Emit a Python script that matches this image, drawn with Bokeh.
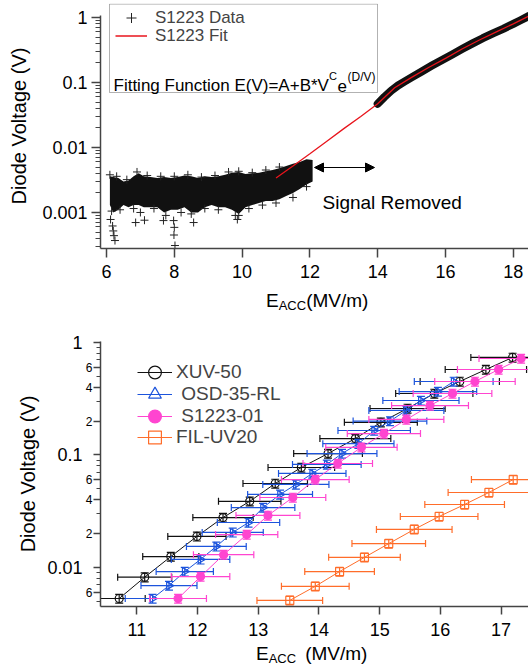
import math
from bokeh.plotting import figure
from bokeh.models import (ColumnDataSource, FixedTicker, CustomJSTickFormatter, Legend,
                          LegendItem, BoxAnnotation, Label, Arrow, NormalHead, LogAxis, Div)
from bokeh.layouts import column
from bokeh.embed import file_html
from bokeh.resources import INLINE

FONT = "Liberation Sans"

# ---------------- top panel data ----------------
noise_x = [6.10, 6.20, 6.35, 6.50, 6.65, 6.80, 6.95, 7.10, 7.30, 7.50, 7.70, 7.90, 8.10,
           8.30, 8.50, 8.70, 8.90, 9.10, 9.30, 9.50, 9.70, 9.90, 10.10, 10.30, 10.50,
           10.70, 10.90, 11.10, 11.30, 11.50, 11.70, 11.90, 12.08]
noise_hi = [0.0036, 0.0035, 0.0034, 0.0030, 0.0031, 0.0036, 0.0040, 0.0036, 0.0035, 0.0034,
            0.0035, 0.0034, 0.0035, 0.0037, 0.0036, 0.0034, 0.0036, 0.0035, 0.0036, 0.0038,
            0.0041, 0.0042, 0.0039, 0.0040, 0.0041, 0.0043, 0.0045, 0.0048, 0.0052, 0.0056,
            0.0060, 0.0066, 0.0064]
noise_lo = [0.0013, 0.0010, 0.0011, 0.0013, 0.0012, 0.0013, 0.0013, 0.0012, 0.0012, 0.0012,
            0.0010, 0.0011, 0.0011, 0.0012, 0.0010, 0.0010, 0.0012, 0.0013, 0.0012, 0.0012,
            0.0011, 0.00095, 0.0012, 0.0013, 0.0014, 0.0015, 0.0015, 0.0016, 0.0018, 0.0020,
            0.0023, 0.0027, 0.0030]
cross_x = [6.10, 6.30, 6.60, 6.90, 7.20, 7.60, 8.00, 8.40, 8.80, 9.20, 9.60, 9.90, 10.30,
           10.70, 11.10,
           6.15, 6.40, 6.80, 7.00, 7.40, 7.75, 8.20, 8.50, 8.90, 9.30, 9.80, 10.20, 10.60,
           11.00, 11.50, 11.90,
           6.12, 6.18, 6.20, 6.22, 6.25, 6.86, 7.12, 7.68, 7.98, 8.00, 7.99, 8.02, 8.57,
           9.86, 9.90]
cross_y = [0.0038, 0.0036, 0.0032, 0.0042, 0.0037, 0.0036, 0.0036, 0.0038, 0.0035, 0.0037,
           0.0042, 0.0043, 0.0041, 0.0045, 0.0050,
           0.00105, 0.0011, 0.00115, 0.0010, 0.00115, 0.0009, 0.0010, 0.00095, 0.00115,
           0.0011, 0.0009, 0.00115, 0.0013, 0.0014, 0.0017, 0.0025,
           0.00078, 0.00062, 0.00052, 0.00044, 0.00037, 0.0007, 0.00076, 0.00075, 0.00075,
           0.00059, 0.00045, 0.00031, 0.0007, 0.00078, 0.0009]
signal_x = [14.0, 14.2, 14.4, 14.6, 14.8, 15.0, 15.3, 15.6, 15.9, 16.2, 16.5, 16.8, 17.1,
            17.4, 17.7, 18.0, 18.2, 18.45]
signal_y = [0.047, 0.060, 0.075, 0.090, 0.104, 0.120, 0.148, 0.182, 0.222, 0.27, 0.33,
            0.40, 0.48, 0.57, 0.67, 0.80, 0.90, 1.05]
fit_x = [11.0, 11.5, 12.0, 12.5, 13.0, 13.5, 14.0, 14.5, 15.0, 15.5, 16.0, 16.5, 17.0,
         17.5, 18.0, 18.45]
fit_y = [0.0034, 0.0052, 0.0080, 0.0125, 0.0195, 0.030, 0.047, 0.083, 0.12, 0.17, 0.235,
         0.33, 0.45, 0.60, 0.80, 1.05]
top_xticks = [6, 8, 10, 12, 14, 16, 18]
top_yticks = [0.001, 0.01, 0.1, 1]

# ---------------- bottom panel data ----------------
xuv_x = [10.71, 11.13, 11.56, 11.99, 12.42, 12.86, 13.28, 13.71, 14.15, 14.60, 15.02,
         15.46, 15.90, 16.32, 16.75, 17.19]
xuv_y = [0.0053, 0.0082, 0.0125, 0.0189, 0.0278, 0.0387, 0.0558, 0.0774, 0.103, 0.140,
         0.195, 0.259, 0.352, 0.450, 0.575, 0.736]
osd_x = [11.26, 11.53, 11.79, 12.05, 12.31, 12.58, 12.84, 13.08, 13.36, 13.62, 13.89,
         14.13, 14.38, 14.65, 14.91, 15.17, 15.44, 15.68, 15.96, 16.22]
osd_y = [0.0053, 0.0069, 0.0092, 0.0118, 0.0154, 0.0205, 0.0251, 0.0341, 0.0446, 0.0547,
         0.0685, 0.0824, 0.103, 0.126, 0.165, 0.200, 0.249, 0.305, 0.366, 0.450]
s1223_x = [11.68, 12.05, 12.43, 12.81, 13.16, 13.57, 13.94, 14.31, 14.70, 15.07, 15.44,
           15.83, 16.20, 16.57, 16.96, 17.33]
s1223_y = [0.0053, 0.0083, 0.0130, 0.0196, 0.0290, 0.0419, 0.0605, 0.084, 0.117, 0.155,
           0.207, 0.275, 0.352, 0.450, 0.575, 0.720]
fil_x = [13.52, 13.94, 14.34, 14.75, 15.15, 15.57, 15.98, 16.40, 16.80, 17.20]
fil_y = [0.0051, 0.0068, 0.0092, 0.0123, 0.0163, 0.0218, 0.0284, 0.0363, 0.0464, 0.0605]
X_ERR_REL = 0.04   # horizontal error bars, +-4 % of E
Y_ERR_REL = 0.09   # vertical error bars, +-9 % of V
bot_xticks = [11, 12, 13, 14, 15, 16, 17]
bot_yticks = [0.01, 0.1, 1]
minor_label_vals = [0.6, 0.4, 0.2, 0.06, 0.04, 0.02, 0.006]
minor_label_text = ["6", "4", "2", "6", "4", "2", "6"]

AX = "#444444"

# ---------------- geometry (page pixels) ----------------
XT = (5.823, 18.448)
YT = (0.000279, 1.642)
T_LEFT, T_TOP, T_W, T_H = 100, 3, 428, 245
XB = (10.402, 17.452)
YB = (0.0045, 1.02)
B_LEFT, B_TOP, B_W, B_H = 91, 341, 437, 265


def px_x(px, left, w, rng):
    return rng[0] + (px - left) / w * (rng[1] - rng[0])


def px_y(py, top, h, rng):
    l0, l1 = math.log10(rng[0]), math.log10(rng[1])
    return 10 ** (l1 - (py - top) / h * (l1 - l0))


def tx(px): return px_x(px, T_LEFT, T_W, XT)
def ty(py): return px_y(py, T_TOP, T_H, YT)


def style(p, xticks):
    p.outline_line_color = None
    p.grid.visible = False
    p.xaxis.ticker = FixedTicker(ticks=xticks, minor_ticks=[])
    for ax in p.axis:
        ax.axis_line_color = AX
        ax.axis_line_width = 1.5
        ax.major_tick_line_color = AX
        ax.major_tick_line_width = 1.5
        ax.minor_tick_line_color = AX
        ax.minor_tick_line_width = 1
        ax.major_tick_in = 0
        ax.minor_tick_in = 0
        ax.major_label_text_font = FONT
        ax.major_label_text_font_size = "18px"
        ax.major_label_text_color = "black"
        ax.axis_label_text_font = FONT
        ax.axis_label_text_font_size = "20px"
        ax.axis_label_text_font_style = "normal"
        ax.axis_label_text_color = "black"


def legend_row(p, label, renderers, left, center_y, frame_bottom, gw, gh, fs, standoff):
    """One legend entry per Legend, so the marker box can be taller than the row pitch."""
    leg = Legend(items=[LegendItem(label=label, renderers=renderers)],
                 location=(left, int(round(frame_bottom - center_y - gh / 2))),
                 orientation="vertical", padding=0, margin=0, spacing=0,
                 glyph_width=gw, glyph_height=gh, label_height=gh, label_standoff=standoff,
                 label_text_font=FONT, label_text_font_size=fs, label_text_line_height=1.0,
                 background_fill_alpha=0, border_line_alpha=0)
    p.add_layout(leg)


minor_all = [m * 10.0 ** e for e in range(-4, 1) for m in range(2, 10)]

# ================= top figure =================
p1 = figure(width=528, height=290, x_range=XT, y_range=YT, y_axis_type="log",
            output_backend="svg", toolbar_location=None,
            min_border_left=100, min_border_right=0, min_border_top=3, min_border_bottom=42)
style(p1, top_xticks)
p1.yaxis.ticker = FixedTicker(ticks=top_yticks,
                              minor_ticks=[v for v in minor_all if YT[0] < v < 1.07])
p1.yaxis.formatter = CustomJSTickFormatter(code="return String(tick)")
p1.yaxis.bounds = (YT[0], 1.07)
p1.yaxis.axis_label = "Diode Voltage (V)"
p1.yaxis.axis_label_standoff = 9
p1.yaxis.major_tick_out = 9
p1.yaxis.minor_tick_out = 5
p1.yaxis.major_label_standoff = 4
p1.xaxis.major_tick_out = 9
p1.xaxis.major_label_standoff = 7

p1.varea(x=noise_x, y1=noise_lo, y2=noise_hi, fill_color="#111111")
r_cross = p1.scatter(cross_x, cross_y, marker="cross", size=8, line_color="#222222",
                     line_width=1)
p1.line(signal_x, signal_y, line_width=8, line_color="#111111", line_cap="round",
        line_join="round")
r_fit = p1.line(fit_x, fit_y, line_color="#e8141c", line_width=1.3)

p1.add_layout(BoxAnnotation(left=tx(109), right=tx(377), top=ty(3.6), bottom=ty(92),
                            fill_alpha=0, line_color="black", line_width=1))
T_FB = T_TOP + T_H
legend_row(p1, "S1223 Data", [r_cross], 15, 17, T_FB, 32, 25, "17px", 8)
legend_row(p1, "S1223 Fit", [r_fit], 15, 35, T_FB, 32, 25, "17px", 8)

for txt, px, py, fs in [("Fitting Function E(V)=A+B*V", 113, 85, "17px"),
                        ("C", 328.5, 75, "11px"),
                        ("e", 337, 85, "17px"),
                        ("(D/V)", 347, 76, "12px"),
                        ("Signal Removed", 322, 202, "19px")]:
    p1.add_layout(Label(x=tx(px), y=ty(py), text=txt, text_font=FONT, text_font_size=fs,
                        text_baseline="alphabetic", text_align="left", text_color="black"))

p1.add_layout(Arrow(start=NormalHead(size=9, fill_color="black", line_color="black"),
                    end=NormalHead(size=9, fill_color="black", line_color="black"),
                    x_start=tx(314), y_start=ty(167), x_end=tx(374), y_end=ty(167),
                    line_width=1, line_color="black"))

XLAB_STYLE = ("position:relative;left:{left}px;top:{top}px;font-family:'Liberation Sans';"
              "font-size:19px;line-height:19px;white-space:nowrap;color:black")
div1 = Div(text=('<div style="' + XLAB_STYLE.format(left=266, top=1) + '">E'
                 '<span style="font-size:13px;position:relative;top:3px">ACC</span>'
                 '(MV/m)</div>'),
           width=528, height=28, margin=0)

# ================= bottom figure =================
p2 = figure(width=528, height=326, x_range=XB, y_range=YB, y_axis_type="log",
            output_backend="svg", toolbar_location=None,
            min_border_left=91, min_border_right=0, min_border_top=23, min_border_bottom=38)
style(p2, bot_xticks)
p2.xaxis.major_tick_out = 8
p2.xaxis.major_label_standoff = 8

# inner axis: ticks + small mantissa labels
inner_major = sorted(bot_yticks + minor_label_vals)
inner_minor = [v for v in minor_all if YB[0] < v < YB[1]
               and all(abs(v - t) > 1e-9 for t in inner_major)]
ya = p2.yaxis[0]
ya.ticker = FixedTicker(ticks=inner_major, minor_ticks=inner_minor)
ya.formatter = CustomJSTickFormatter(
    args=dict(vals=minor_label_vals, txt=minor_label_text),
    code="for (let i = 0; i < vals.length; i++) {"
         " if (Math.abs(tick - vals[i]) < 1e-9) return txt[i]; } return '';")
ya.major_tick_out = 7
ya.minor_tick_out = 4
ya.major_label_standoff = 1
ya.major_label_text_font_size = "12px"

# outer axis: decade labels and the axis title
yb = LogAxis(ticker=FixedTicker(ticks=bot_yticks, minor_ticks=[]),
             formatter=CustomJSTickFormatter(code="return String(tick)"),
             axis_line_color=None, major_tick_line_color=None, minor_tick_line_color=None,
             major_tick_out=0, major_tick_in=0, minor_tick_out=0, minor_tick_in=0,
             major_label_standoff=0, major_label_text_font=FONT,
             major_label_text_font_size="18px", major_label_text_color="black",
             axis_label="Diode Voltage (V)", axis_label_standoff=5,
             axis_label_text_font=FONT, axis_label_text_font_size="20px",
             axis_label_text_font_style="normal", axis_label_text_color="black")
p2.add_layout(yb, "left")


def series(p, xs, ys, color, marker, filled, angle=0.0):
    src = ColumnDataSource(dict(
        x=xs, y=ys,
        xlo=[x * (1 - X_ERR_REL) for x in xs], xhi=[x * (1 + X_ERR_REL) for x in xs],
        ylo=[y * (1 - Y_ERR_REL) for y in ys], yhi=[y * (1 + Y_ERR_REL) for y in ys]))
    r_line = p.line("x", "y", source=src, line_color=color, line_width=1)
    p.segment(x0="xlo", y0="y", x1="xhi", y1="y", source=src, line_color=color, line_width=1.2)
    for c in ("xlo", "xhi"):
        p.scatter(c, "y", source=src, marker="dash", angle=math.pi / 2, size=7,
                  line_color=color, line_width=1.2)
    p.segment(x0="x", y0="ylo", x1="x", y1="yhi", source=src, line_color=color, line_width=1.2)
    for c in ("ylo", "yhi"):
        p.scatter("x", c, source=src, marker="dash", size=8, line_color=color, line_width=1.2)
    r_mark = p.scatter("x", "y", source=src, marker=marker, size=8, angle=angle,
                       line_color=color, line_width=1.2,
                       fill_color=color if filled else None)
    return [r_line, r_mark]


BLACK, BLUE, PINK, ORANGE = "#111111", "#1c54dc", "#ff45d0", "#ff6d2a"
r_xuv = series(p2, xuv_x, xuv_y, BLACK, "circle", False)
r_osd = series(p2, osd_x, osd_y, BLUE, "triangle", False, angle=-math.pi / 2)
r_s = series(p2, s1223_x, s1223_y, PINK, "circle", True)
r_fil = series(p2, fil_x, fil_y, ORANGE, "square", False)

B_FB = B_TOP + B_H
for lab, rr, cy in [("XUV-50", r_xuv, 372), (" OSD-35-RL", r_osd, 394),
                    (" S1223-01", r_s, 416), ("FIL-UV20", r_fil, 437)]:
    legend_row(p2, lab, rr, 37, cy, B_FB, 35, 32, "19px", 4)

div2 = Div(text=('<div style="' + XLAB_STYLE.format(left=256, top=0) + '">E'
                 '<span style="font-size:13px;position:relative;top:3px">ACC</span>'
                 '<span style="margin-left:9px">(MV/m)</span></div>'),
           width=528, height=27, margin=0)

layout = column(p1, div1, p2, div2, spacing=0)
open("out.html", "w").write(file_html(layout, INLINE))
